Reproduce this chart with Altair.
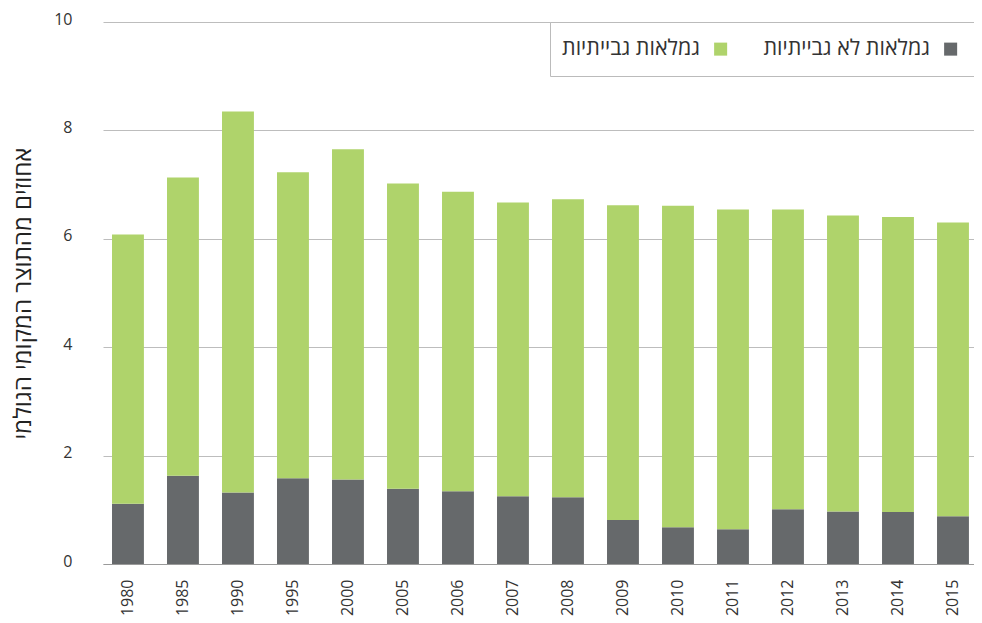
import altair as alt
import pandas as pd

years = ["1980", "1985", "1990", "1995", "2000", "2005", "2006", "2007",
         "2008", "2009", "2010", "2011", "2012", "2013", "2014", "2015"]
non_collectible = [1.11, 1.63, 1.32, 1.58, 1.56, 1.39, 1.34, 1.25,
                   1.23, 0.81, 0.68, 0.64, 1.01, 0.97, 0.96, 0.88]
collectible = [4.97, 5.50, 7.03, 5.65, 6.09, 5.63, 5.53, 5.42,
               5.50, 5.81, 5.93, 5.90, 5.53, 5.46, 5.44, 5.42]

series_names = ["גמלאות גבייתיות", "גמלאות לא גבייתיות"]
series_colors = ["#AFD36B", "#66696B"]
y_title = "אחוזים מהתוצר המקומי הגולמי"
y_ticks = [0, 2, 4, 6, 8, 10]

rows = []
for yr, nc, c in zip(years, non_collectible, collectible):
    rows.append({"year": yr, "series": series_names[1], "value": nc, "ord": 0})
    rows.append({"year": yr, "series": series_names[0], "value": c, "ord": 1})
df = pd.DataFrame(rows)

font = "Open Sans"

# square drawn to the right of the (right-aligned) RTL label
legend_square = "M21.72,-1.03H23.78V1.03H21.72Z"

legend = alt.Legend(
    title=None, orient="top-right", direction="horizontal", offset=0,
    fillColor="white", strokeColor="#bbbbbb", padding=16,
    symbolType=legend_square, symbolSize=160, symbolStrokeWidth=0,
    symbolOffset=0,
    labelFontSize=21.5, labelFont=font, labelColor="#333333",
    labelAlign="right", labelOffset=112.5, columnPadding=35, labelLimit=300,
)

chart = alt.Chart(df).mark_bar().encode(
    x=alt.X("year:N", sort=years, title=None,
            scale=alt.Scale(paddingInner=0.42, paddingOuter=0.128, align=0.64),
            axis=alt.Axis(labelAngle=-90, labelFontSize=16, labelColor="#333333",
                          labelFont=font, labelPadding=15, ticks=False,
                          domainColor="#9a9a9a", domainWidth=1, grid=False)),
    y=alt.Y("value:Q", stack="zero", title=y_title,
            scale=alt.Scale(domain=[0, 10], nice=False),
            axis=alt.Axis(values=y_ticks, labelFontSize=16, labelColor="#333333",
                          labelFont=font, labelPadding=31, labelOffset=-3,
                          ticks=False, domain=False, gridColor="#bdbdbd",
                          gridWidth=1, titleFont=font, titleFontSize=24,
                          titleFontWeight="normal", titleColor="#222222",
                          titlePadding=18)),
    color=alt.Color("series:N",
                    scale=alt.Scale(domain=series_names, range=series_colors),
                    legend=legend),
    order=alt.Order("ord:Q", sort="ascending"),
).properties(
    width=871,
    height=542,
    autosize=alt.AutoSizeParams(type="none"),
    padding={"left": 95, "top": 14, "right": 0, "bottom": 58},
).configure_view(stroke=None)

chart.save("out.html", embed_options={"renderer": "svg", "actions": False})
